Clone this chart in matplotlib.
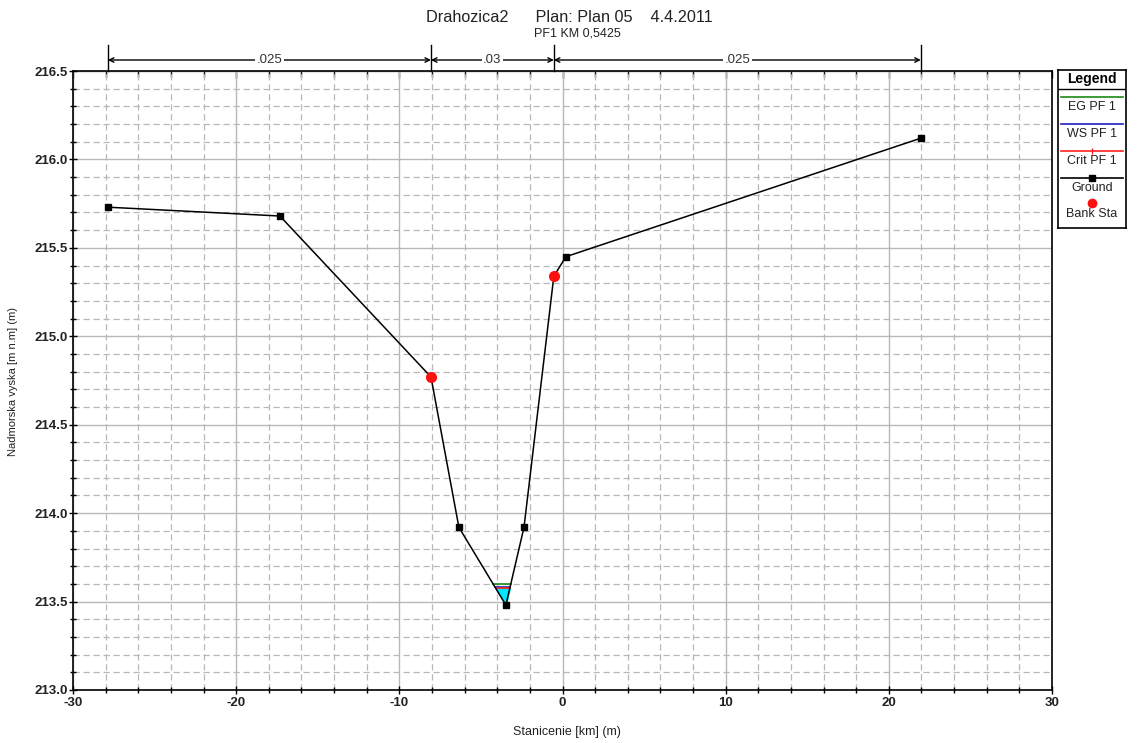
import numpy as np
import matplotlib
matplotlib.use("Agg")
import matplotlib.pyplot as plt
from matplotlib.ticker import MultipleLocator, FormatStrFormatter

plt.rcParams['font.family'] = ['Liberation Sans', 'DejaVu Sans']
plt.rcParams['axes.unicode_minus'] = False

# Cross-section geometry
station = [-27.86, -17.32, -8.06, -6.35, -3.47, -2.36, -0.53, 0.21, 21.96]
elevation = [215.73, 215.68, 214.77, 213.92, 213.48, 213.92, 215.34, 215.45, 216.12]
bank_idx = [2, 6]

# Water profile levels (PF 1)
eg_pf1 = 213.60
ws_pf1 = 213.58
crit_pf1 = 213.575

# Manning's n zones
n_breaks = [-27.86, -8.06, -0.53, 21.96]
n_values = [".025", ".03", ".025"]

title = "Drahozica2      Plan: Plan 05    4.4.2011"
subtitle = "PF1 KM 0,5425"
xlabel = "Stanicenie [km] (m)"
ylabel = "Nadmorska vyska [m n.m] (m)"

W, H = 1137, 743
fig = plt.figure(figsize=(W / 100, H / 100), dpi=100)
ax = fig.add_axes([73 / W, 1 - 690 / H, (1052 - 73) / W, (690 - 71) / H])

ax.set_xlim(-30, 30)
ax.set_ylim(213.0, 216.5)
ax.xaxis.set_major_locator(MultipleLocator(10))
ax.xaxis.set_minor_locator(MultipleLocator(2))
ax.yaxis.set_major_locator(MultipleLocator(0.5))
ax.yaxis.set_minor_locator(MultipleLocator(0.1))
ax.yaxis.set_major_formatter(FormatStrFormatter('%.1f'))

ax.grid(which='major', color='#b8b8b8', lw=1.0, ls='-')
ax.grid(which='minor', color='#b8b8b8', lw=0.9, ls=(0, (5, 3)))
ax.set_axisbelow(True)

ax.tick_params(which='both', direction='inout', colors='black', width=1,
               labelsize=9.5, labelcolor='#222222')
ax.tick_params(axis='x', which='both', pad=2)
ax.tick_params(axis='y', which='both', pad=1)
ax.tick_params(which='major', length=6)
ax.tick_params(which='minor', length=4)
for lab in ax.get_xticklabels() + ax.get_yticklabels():
    lab.set_fontweight('bold')
for sp in ax.spines.values():
    sp.set_linewidth(1.2)

# Inward ticks along the top edge
top = ax.secondary_xaxis('top')
top.xaxis.set_major_locator(MultipleLocator(10))
top.xaxis.set_minor_locator(MultipleLocator(2))
top.tick_params(which='both', direction='in', labeltop=False, width=1)
top.tick_params(which='major', length=5)
top.tick_params(which='minor', length=4)

# Water fill between ground and water surface
xs = np.array(station)
zs = np.array(elevation)
lo = 3


def level_span(level):
    a = np.interp(level, [zs[lo + 1], zs[lo]], [xs[lo + 1], xs[lo]])
    b = np.interp(level, [zs[lo + 1], zs[lo + 2]], [xs[lo + 1], xs[lo + 2]])
    return [a, b]


xl, xr = level_span(ws_pf1)
xf = np.array([xl, xs[lo + 1], xr])
zf = np.array([ws_pf1, zs[lo + 1], ws_pf1])
ax.fill_between(xf, zf, ws_pf1, color='#00e8ff', zorder=2)

ax.plot(level_span(eg_pf1), [eg_pf1] * 2, color='#1a8a1a', lw=1.2, zorder=3)
ax.plot(level_span(ws_pf1), [ws_pf1] * 2, color='#2020c0', lw=1.2, zorder=3)
ax.plot(level_span(crit_pf1), [crit_pf1] * 2, color='#ff2020', lw=1.2, zorder=3)

# Ground line
ax.plot(station, elevation, color='black', lw=1.1, marker='s', ms=4.5, zorder=4)
ax.plot([station[i] for i in bank_idx], [elevation[i] for i in bank_idx],
        'o', color='#ff1010', ms=7, zorder=5)

fig.text(567 / W, 1 - 732 / H, xlabel, ha='center', va='center', fontsize=9,
         color='#222222')
fig.text(13 / W, 1 - 382 / H, ylabel, ha='center', va='center', fontsize=8,
         rotation=90, color='#222222')

# Manning's n bar above the plot
trans = matplotlib.transforms.blended_transform_factory(ax.transData, ax.transAxes)
y_bar = 1 + (71 - 60) / (690 - 71)
for xb in n_breaks:
    ax.plot([xb, xb], [1.0, 1 + (71 - 45) / (690 - 71)], color='black', lw=1.0,
            transform=trans, clip_on=False)
for (a, b), lab in zip(zip(n_breaks[:-1], n_breaks[1:]), n_values):
    ax.annotate('', xy=(a, y_bar), xytext=(b, y_bar), xycoords=trans, textcoords=trans,
                arrowprops=dict(arrowstyle='<->', lw=1.0, color='black',
                                shrinkA=0, shrinkB=0, mutation_scale=8))
    ax.text((a + b) / 2, y_bar, lab, transform=trans, ha='center', va='center',
            fontsize=9.5, color='#333333',
            bbox=dict(facecolor='white', edgecolor='none', pad=1))

fig.text(569 / W, 1 - 17 / H, title, ha='center', va='center', fontsize=11.7,
         color='#222222')
fig.text(577 / W, 1 - 34 / H, subtitle, ha='center', va='center', fontsize=9,
         color='#222222')

# Legend panel
lx0, lx1, ly0, ly1 = 1058, 1126, 70, 228
lax = fig.add_axes([lx0 / W, 1 - ly1 / H, (lx1 - lx0) / W, (ly1 - ly0) / H])
lax.set_xlim(lx0, lx1)
lax.set_ylim(ly1, ly0)
lax.set_xticks([])
lax.set_yticks([])
for sp in lax.spines.values():
    sp.set_linewidth(1.2)
cx = (lx0 + lx1) / 2
lax.text(cx, 79, "Legend", ha='center', va='center', fontsize=10, fontweight='bold')
lax.axhline(89, color='black', lw=1.0)
entries = [
    ("EG PF 1", 97, dict(color='#1a8a1a', lw=1.2)),
    ("WS PF 1", 124, dict(color='#2020c0', lw=1.2)),
    ("Crit PF 1", 151, dict(color='#ff2020', lw=1.2, marker='|', ms=5, markevery=[1])),
    ("Ground", 178, dict(color='black', lw=1.2, marker='s', ms=4, markevery=[1])),
]
for label, yl, style in entries:
    lax.plot([lx0 + 3, cx, lx1 - 3], [yl] * 3, **style)
    lax.text(cx, yl + 10, label, ha='center', va='center', fontsize=9, color='#222222')
lax.plot([cx], [203], 'o', color='#ff1010', ms=6)
lax.text(cx, 214, "Bank Sta", ha='center', va='center', fontsize=9, color='#222222')

fig.savefig("out.png", dpi=100)
